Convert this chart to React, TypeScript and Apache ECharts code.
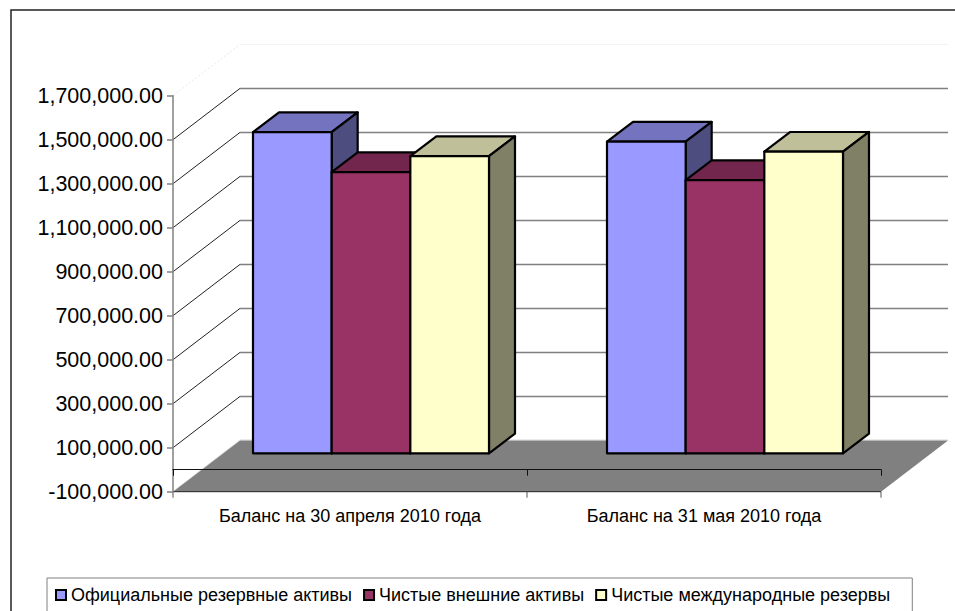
import React, { useEffect, useRef } from "react";
import * as echarts from "echarts";

const categories = ["Баланс на 30 апреля 2010 года", "Баланс на 31 мая 2010 года"];
const seriesNames = ["Официальные резервные активы", "Чистые внешние активы", "Чистые международные резервы"];
const officialReserves = [1460000, 1417000];
const netForeignAssets = [1278000, 1242000];
const netInternationalReserves = [1351000, 1371000];
const yTicks = [-100000, 100000, 300000, 500000, 700000, 900000, 1100000, 1300000, 1500000, 1700000];
const yMin = -100000;
const yMax = 1700000;

const allValues = [officialReserves, netForeignAssets, netInternationalReserves];
const frontColors = ["#9999FF", "#993366", "#FFFFCC"];
const topColors = ["#7373BF", "#73264D", "#BFBF99"];
const sideColors = ["#4D4D80", "#4D1A33", "#808066"];

const WALL_DX = 67;
const WALL_DY = -51.3;
const BAR_DX = 21;
const BAR_DY = -16.4;
const DEPTH_DX = 26;
const DEPTH_DY = -19.7;
const BAR_SHARE = 2 / 9;
const STROKE = 2.2;
const FONT = "Liberation Sans";

function fmt(v: number) {
  return v.toLocaleString("en-US", { minimumFractionDigits: 2, maximumFractionDigits: 2 });
}

function poly(points: number[][], fill: string, stroke = "#000", lineWidth = STROKE) {
  return {
    type: "polygon",
    shape: { points },
    style: { fill, stroke, lineWidth, lineJoin: "round" },
  };
}

function seg(x1: number, y1: number, x2: number, y2: number, stroke: string, lineWidth: number, lineDash?: number[]) {
  return {
    type: "line",
    shape: { x1, y1, x2, y2 },
    style: { stroke, lineWidth, lineDash, fill: "none" },
  };
}

export default function App() {
  const ref = useRef<HTMLDivElement | null>(null);
  useEffect(() => {
    if (!ref.current) return;
    const chart = echarts.init(ref.current, undefined, { renderer: "svg" });

    const wallSeries = {
      type: "custom",
      name: "walls",
      z: 1,
      silent: true,
      clip: false,
      data: yTicks.map((v) => [0, v]),
      renderItem: (_p: any, api: any) => {
        const v = api.value(1);
        const [, y] = api.coord([0, v]);
        const band = api.size([1, 0])[0];
        const x0 = api.coord([0, v])[0] - band / 2;
        const xm = x0 + band;
        const x1 = x0 + band * 2;
        const children: any[] = [];
        if (v === yMin) {
          children.push(seg(x0 + WALL_DX, y + WALL_DY - 0.6, x1 + WALL_DX, y + WALL_DY - 0.6, "#e4e4e4", 1.2));
          children.push(seg(x0 + 1, y - 1, x0 + WALL_DX, y + WALL_DY - 0.6, "#e8e8e8", 1));
          children.push(
            poly(
              [
                [x0, y],
                [x1, y],
                [x1 + WALL_DX, y + WALL_DY],
                [x0 + WALL_DX, y + WALL_DY],
              ],
              "#808080",
              "none",
              0,
            ),
          );
          children.push(seg(x0, y, x1, y, "#222", 1));
          children.push(seg(x0, y, x0, y + 6, "#555", 1));
          children.push(seg(xm, y, xm, y + 6, "#555", 1));
          children.push(seg(x1, y, x1, y + 6, "#555", 1));
        } else if (v === yMax) {
          children.push(seg(x0, y, x0 + WALL_DX, y + WALL_DY, "#e8e8e8", 1, [2, 2]));
          children.push(seg(x0 + WALL_DX, y + WALL_DY, x1 + WALL_DX, y + WALL_DY, "#f2f2f2", 1));
        } else {
          children.push(seg(x0, y, x0 + WALL_DX, y + WALL_DY, "#222", 1));
          children.push(seg(x0 + WALL_DX, y + WALL_DY, x1 + WALL_DX, y + WALL_DY, "#808080", 1.5));
        }
        return { type: "group", children };
      },
    };

    const barSeries = allValues.map((values, s) => ({
      type: "custom",
      name: seriesNames[s],
      z: 4,
      clip: false,
      itemStyle: { color: frontColors[s] },
      data: values.map((v, i) => [i, v]),
      renderItem: (_p: any, api: any) => {
        const idx = api.value(0);
        const [cx, yTop0] = api.coord([idx, api.value(1)]);
        const [, yBase0] = api.coord([idx, 0]);
        const w = api.size([1, 0])[0] * BAR_SHARE;
        const l = cx + BAR_DX + (s - 1.5) * w;
        const r = l + w;
        const t = yTop0 + BAR_DY;
        const b = yBase0 + BAR_DY;
        return {
          type: "group",
          children: [
            poly(
              [
                [l, t],
                [r, t],
                [r + DEPTH_DX, t + DEPTH_DY],
                [l + DEPTH_DX, t + DEPTH_DY],
              ],
              topColors[s],
            ),
            poly(
              [
                [r, t],
                [r + DEPTH_DX, t + DEPTH_DY],
                [r + DEPTH_DX, b + DEPTH_DY],
                [r, b],
              ],
              sideColors[s],
            ),
            poly(
              [
                [l, t],
                [r, t],
                [r, b],
                [l, b],
              ],
              frontColors[s],
            ),
          ],
        };
      },
    }));

    chart.setOption({
      animation: false,
      backgroundColor: "#fff",
      textStyle: { fontFamily: FONT },
      graphic: [
        {
          type: "rect",
          z: -1,
          shape: { x: 11, y: 10, width: 1100, height: 800 },
          style: { fill: "none", stroke: "#222", lineWidth: 1.5 },
        },
      ],
      grid: { left: 173, top: 95.7, width: 708, height: 396, containLabel: false },
      xAxis: {
        type: "category",
        data: categories,
        z: 3,
        axisLine: { onZero: true, lineStyle: { color: "#111", width: 1.2 } },
        axisTick: { show: true, alignWithLabel: false, length: 6, lineStyle: { color: "#111", width: 1 } },
        axisLabel: { margin: 15, fontSize: 18, color: "#000", fontFamily: FONT },
        splitLine: { show: false },
      },
      yAxis: {
        type: "value",
        min: yMin,
        max: yMax,
        z: 3,
        axisLine: { show: true, lineStyle: { color: "#808080", width: 1.5 } },
        axisTick: { show: true, length: 6, customValues: yTicks, lineStyle: { color: "#808080", width: 1.5 } },
        axisLabel: {
          margin: 10,
          fontSize: 21.5,
          color: "#000",
          fontFamily: FONT,
          customValues: yTicks,
          formatter: (v: number) => fmt(v),
        },
        splitLine: { show: false },
      },
      legend: {
        data: seriesNames,
        left: 47,
        top: 578,
        orient: "horizontal",
        icon: "rect",
        itemWidth: 10,
        itemHeight: 10,
        itemGap: 11,
        padding: [8, 22, 30, 8],
        borderColor: "#808080",
        borderWidth: 1,
        backgroundColor: "#fff",
        selectedMode: false,
        itemStyle: { borderColor: "#000", borderWidth: 2 },
        textStyle: { fontSize: 18, color: "#000", fontFamily: FONT },
      },
      series: [wallSeries, ...barSeries],
    });
    return () => chart.dispose();
  }, []);
  return <div ref={ref} style={{ position: "absolute", left: 0, top: 0, width: 955, height: 611 }} />;
}
